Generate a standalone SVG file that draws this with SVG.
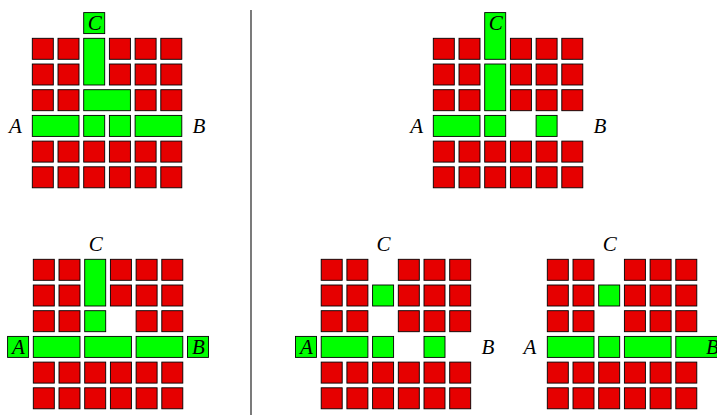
<svg xmlns="http://www.w3.org/2000/svg" width="717" height="415" viewBox="0 0 717 415">
<defs>
<style>
.r{fill:#e60000;stroke:#000;stroke-width:0.9}
.g{fill:#00ff00;stroke:#000;stroke-width:0.9}
text{font-family:'Liberation Serif','Times New Roman',serif;font-style:italic;font-size:21px;text-anchor:middle;fill:#000}
</style>
<rect id="c" class="r" width="21" height="21"/>
</defs>
<rect width="717" height="415" fill="#fff"/>
<g id="connectors">
<line x1="251" y1="10" x2="251" y2="415" stroke="#222" stroke-width="1.2"/>
</g>
<g id="panel1" transform="translate(32.3,38.3)">
<use href="#c" x="0" y="0"/><use href="#c" x="25.7" y="0"/><rect class="g" x="51.4" y="0" width="21" height="46.7"/><use href="#c" x="77.1" y="0"/><use href="#c" x="102.8" y="0"/><use href="#c" x="128.5" y="0"/>
<use href="#c" x="0" y="25.7"/><use href="#c" x="25.7" y="25.7"/><use href="#c" x="77.1" y="25.7"/><use href="#c" x="102.8" y="25.7"/><use href="#c" x="128.5" y="25.7"/>
<use href="#c" x="0" y="51.4"/><use href="#c" x="25.7" y="51.4"/><rect class="g" x="51.4" y="51.4" width="46.7" height="21"/><use href="#c" x="102.8" y="51.4"/><use href="#c" x="128.5" y="51.4"/>
<rect class="g" x="0" y="77.1" width="46.7" height="21"/><rect class="g" x="51.4" y="77.1" width="21" height="21"/><rect class="g" x="77.1" y="77.1" width="21" height="21"/><rect class="g" x="102.8" y="77.1" width="46.7" height="21"/>
<use href="#c" x="0" y="102.8"/><use href="#c" x="25.7" y="102.8"/><use href="#c" x="51.4" y="102.8"/><use href="#c" x="77.1" y="102.8"/><use href="#c" x="102.8" y="102.8"/><use href="#c" x="128.5" y="102.8"/>
<use href="#c" x="0" y="128.5"/><use href="#c" x="25.7" y="128.5"/><use href="#c" x="51.4" y="128.5"/><use href="#c" x="77.1" y="128.5"/><use href="#c" x="102.8" y="128.5"/><use href="#c" x="128.5" y="128.5"/>
<g id="p1C"><rect class="g" x="51.4" y="-25.7" width="21" height="21"/><text x="62.4" y="-8.2">C</text></g>
<g id="p1A"><text x="-16.8" y="94.6">A</text></g>
<g id="p1B"><text x="166.7" y="94.6">B</text></g>
</g>
<g id="panel2" transform="translate(433.3,38.3)">
<use href="#c" x="0" y="0"/><use href="#c" x="25.7" y="0"/><rect class="g" x="51.4" y="-25.7" width="21" height="46.7"/><use href="#c" x="77.1" y="0"/><use href="#c" x="102.8" y="0"/><use href="#c" x="128.5" y="0"/>
<use href="#c" x="0" y="25.7"/><use href="#c" x="25.7" y="25.7"/><rect class="g" x="51.4" y="25.7" width="21" height="46.7"/><use href="#c" x="77.1" y="25.7"/><use href="#c" x="102.8" y="25.7"/><use href="#c" x="128.5" y="25.7"/>
<use href="#c" x="0" y="51.4"/><use href="#c" x="25.7" y="51.4"/><use href="#c" x="77.1" y="51.4"/><use href="#c" x="102.8" y="51.4"/><use href="#c" x="128.5" y="51.4"/>
<rect class="g" x="0" y="77.1" width="46.7" height="21"/><rect class="g" x="51.4" y="77.1" width="21" height="21"/><rect class="g" x="102.8" y="77.1" width="21" height="21"/>
<use href="#c" x="0" y="102.8"/><use href="#c" x="25.7" y="102.8"/><use href="#c" x="51.4" y="102.8"/><use href="#c" x="77.1" y="102.8"/><use href="#c" x="102.8" y="102.8"/><use href="#c" x="128.5" y="102.8"/>
<use href="#c" x="0" y="128.5"/><use href="#c" x="25.7" y="128.5"/><use href="#c" x="51.4" y="128.5"/><use href="#c" x="77.1" y="128.5"/><use href="#c" x="102.8" y="128.5"/><use href="#c" x="128.5" y="128.5"/>
<g id="p2C"><text x="62.4" y="-8.2">C</text></g>
<g id="p2A"><text x="-16.6" y="94.6">A</text></g>
<g id="p2B"><text x="166.7" y="94.6">B</text></g>
</g>
<g id="panel3" transform="translate(33.3,259.3)">
<use href="#c" x="0" y="0"/><use href="#c" x="25.7" y="0"/><rect class="g" x="51.4" y="0" width="21" height="46.7"/><use href="#c" x="77.1" y="0"/><use href="#c" x="102.8" y="0"/><use href="#c" x="128.5" y="0"/>
<use href="#c" x="0" y="25.7"/><use href="#c" x="25.7" y="25.7"/><use href="#c" x="77.1" y="25.7"/><use href="#c" x="102.8" y="25.7"/><use href="#c" x="128.5" y="25.7"/>
<use href="#c" x="0" y="51.4"/><use href="#c" x="25.7" y="51.4"/><rect class="g" x="51.4" y="51.4" width="21" height="21"/><use href="#c" x="102.8" y="51.4"/><use href="#c" x="128.5" y="51.4"/>
<rect class="g" x="0" y="77.1" width="46.7" height="21"/><rect class="g" x="51.4" y="77.1" width="46.7" height="21"/><rect class="g" x="102.8" y="77.1" width="46.7" height="21"/>
<use href="#c" x="0" y="102.8"/><use href="#c" x="25.7" y="102.8"/><use href="#c" x="51.4" y="102.8"/><use href="#c" x="77.1" y="102.8"/><use href="#c" x="102.8" y="102.8"/><use href="#c" x="128.5" y="102.8"/>
<use href="#c" x="0" y="128.5"/><use href="#c" x="25.7" y="128.5"/><use href="#c" x="51.4" y="128.5"/><use href="#c" x="77.1" y="128.5"/><use href="#c" x="102.8" y="128.5"/><use href="#c" x="128.5" y="128.5"/>
<g id="p3C"><text x="62.4" y="-8.2">C</text></g>
<g id="p3A"><rect class="g" x="-25.7" y="77.1" width="21" height="21"/><text x="-14.8" y="94.6">A</text></g>
<g id="p3B"><rect class="g" x="154.2" y="77.1" width="21" height="21"/><text x="165.1" y="94.6">B</text></g>
</g>
<g id="panel4" transform="translate(321.2,259.3)">
<use href="#c" x="0" y="0"/><use href="#c" x="25.7" y="0"/><use href="#c" x="77.1" y="0"/><use href="#c" x="102.8" y="0"/><use href="#c" x="128.5" y="0"/>
<use href="#c" x="0" y="25.7"/><use href="#c" x="25.7" y="25.7"/><rect class="g" x="51.4" y="25.7" width="21" height="21"/><use href="#c" x="77.1" y="25.7"/><use href="#c" x="102.8" y="25.7"/><use href="#c" x="128.5" y="25.7"/>
<use href="#c" x="0" y="51.4"/><use href="#c" x="25.7" y="51.4"/><use href="#c" x="77.1" y="51.4"/><use href="#c" x="102.8" y="51.4"/><use href="#c" x="128.5" y="51.4"/>
<rect class="g" x="0" y="77.1" width="46.7" height="21"/><rect class="g" x="51.4" y="77.1" width="21" height="21"/><rect class="g" x="102.8" y="77.1" width="21" height="21"/>
<use href="#c" x="0" y="102.8"/><use href="#c" x="25.7" y="102.8"/><use href="#c" x="51.4" y="102.8"/><use href="#c" x="77.1" y="102.8"/><use href="#c" x="102.8" y="102.8"/><use href="#c" x="128.5" y="102.8"/>
<use href="#c" x="0" y="128.5"/><use href="#c" x="25.7" y="128.5"/><use href="#c" x="51.4" y="128.5"/><use href="#c" x="77.1" y="128.5"/><use href="#c" x="102.8" y="128.5"/><use href="#c" x="128.5" y="128.5"/>
<g id="p4C"><text x="62.4" y="-8.2">C</text></g>
<g id="p4A"><rect class="g" x="-25.7" y="77.1" width="21" height="21"/><text x="-14.8" y="94.6">A</text></g>
<g id="p4B"><text x="166.7" y="94.6">B</text></g>
</g>
<g id="panel5" transform="translate(547.3,259.3)">
<use href="#c" x="0" y="0"/><use href="#c" x="25.7" y="0"/><use href="#c" x="77.1" y="0"/><use href="#c" x="102.8" y="0"/><use href="#c" x="128.5" y="0"/>
<use href="#c" x="0" y="25.7"/><use href="#c" x="25.7" y="25.7"/><rect class="g" x="51.4" y="25.7" width="21" height="21"/><use href="#c" x="77.1" y="25.7"/><use href="#c" x="102.8" y="25.7"/><use href="#c" x="128.5" y="25.7"/>
<use href="#c" x="0" y="51.4"/><use href="#c" x="25.7" y="51.4"/><use href="#c" x="77.1" y="51.4"/><use href="#c" x="102.8" y="51.4"/><use href="#c" x="128.5" y="51.4"/>
<rect class="g" x="0" y="77.1" width="46.7" height="21"/><rect class="g" x="51.4" y="77.1" width="21" height="21"/><rect class="g" x="77.1" y="77.1" width="46.7" height="21"/>
<use href="#c" x="0" y="102.8"/><use href="#c" x="25.7" y="102.8"/><use href="#c" x="51.4" y="102.8"/><use href="#c" x="77.1" y="102.8"/><use href="#c" x="102.8" y="102.8"/><use href="#c" x="128.5" y="102.8"/>
<use href="#c" x="0" y="128.5"/><use href="#c" x="25.7" y="128.5"/><use href="#c" x="51.4" y="128.5"/><use href="#c" x="77.1" y="128.5"/><use href="#c" x="102.8" y="128.5"/><use href="#c" x="128.5" y="128.5"/>
<g id="p5C"><text x="62.4" y="-8.2">C</text></g>
<g id="p5A"><text x="-17.3" y="94.6">A</text></g>
<g id="p5B"><rect class="g" x="128.5" y="77.1" width="46.7" height="21"/><text x="165.1" y="94.6">B</text></g>
</g>
</svg>
